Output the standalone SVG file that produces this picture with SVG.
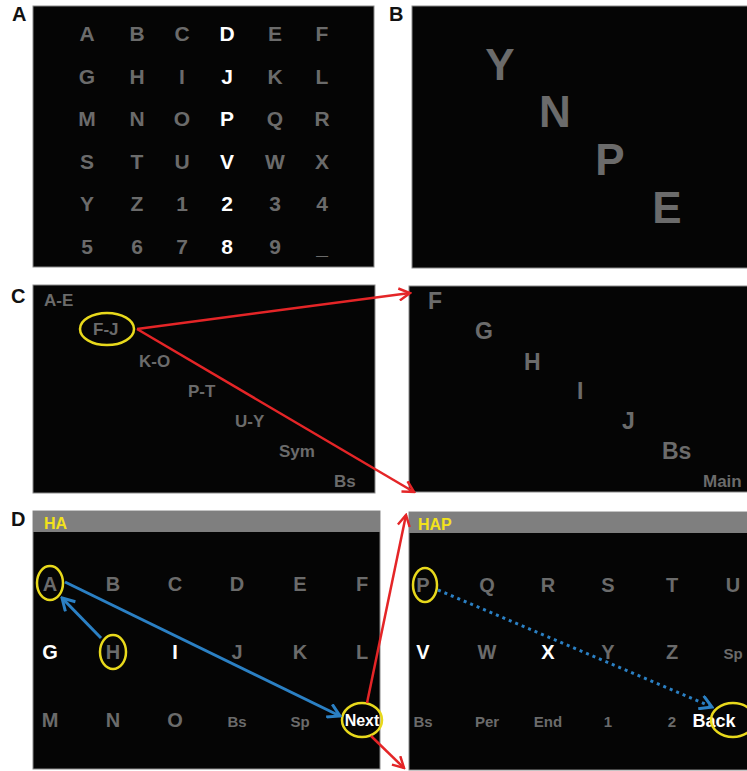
<svg xmlns="http://www.w3.org/2000/svg" width="747" height="771" viewBox="0 0 747 771">
<defs>
<style>
.bg{fill:#050505;stroke:#8a8a8a;stroke-width:1}
.hdr{fill:#7f7f7f}
.pl{font-family:"Liberation Sans",Arial,sans-serif;font-weight:bold;font-size:20px;fill:#111}
.g{font-family:"Liberation Sans",Arial,sans-serif;font-weight:bold;fill:#6b6b6b;text-anchor:middle}
.w{font-family:"Liberation Sans",Arial,sans-serif;font-weight:bold;fill:#ffffff;text-anchor:middle}
.gs{font-family:"Liberation Sans",Arial,sans-serif;font-weight:bold;fill:#6b6b6b}
.y{font-family:"Liberation Sans",Arial,sans-serif;font-weight:bold;fill:#f2e21c;font-size:16px}
.ring{fill:none;stroke:#e8d91c;stroke-width:2.5}
.red{fill:none;stroke:#e42527;stroke-width:2.5}
.blue{fill:none;stroke:#2b80c4;stroke-width:3}
.dot{fill:none;stroke:#2b80c4;stroke-width:3;stroke-dasharray:3 4}
</style>
<marker id="ar" viewBox="0 0 14 14" refX="12" refY="7" markerWidth="14" markerHeight="14" markerUnits="userSpaceOnUse" orient="auto"><path d="M1,1 L12,7 L1,13" fill="none" stroke="#e42527" stroke-width="2.5"/></marker>
<marker id="ab" viewBox="0 0 16 16" refX="14" refY="8" markerWidth="16" markerHeight="16" markerUnits="userSpaceOnUse" orient="auto"><path d="M2,1 L14,8 L2,15" fill="none" stroke="#2b80c4" stroke-width="3"/></marker>
</defs>
<rect width="747" height="771" fill="#ffffff"/>

<g id="panel-labels">
<text class="pl" x="12" y="21">A</text>
<text class="pl" x="389" y="21">B</text>
<text class="pl" x="11" y="303">C</text>
<text class="pl" x="11" y="526">D</text>
</g>

<g id="panelA">
<rect class="bg" x="33" y="6" width="341" height="261"/>
<g class="g" font-size="21">
<text x="87" y="41">A</text><text x="137" y="41">B</text><text x="182" y="41">C</text><text x="275" y="41">E</text><text x="322" y="41">F</text>
<text x="87" y="83.5">G</text><text x="137" y="83.5">H</text><text x="182" y="83.5">I</text><text x="275" y="83.5">K</text><text x="322" y="83.5">L</text>
<text x="87" y="126">M</text><text x="137" y="126">N</text><text x="182" y="126">O</text><text x="275" y="126">Q</text><text x="322" y="126">R</text>
<text x="87" y="168.5">S</text><text x="137" y="168.5">T</text><text x="182" y="168.5">U</text><text x="275" y="168.5">W</text><text x="322" y="168.5">X</text>
<text x="87" y="211">Y</text><text x="137" y="211">Z</text><text x="182" y="211">1</text><text x="275" y="211">3</text><text x="322" y="211">4</text>
<text x="87" y="253.5">5</text><text x="137" y="253.5">6</text><text x="182" y="253.5">7</text><text x="275" y="253.5">9</text><text x="322" y="253.5">_</text>
</g>
<g class="w" font-size="21">
<text x="227" y="41">D</text><text x="227" y="83.5">J</text><text x="227" y="126">P</text><text x="227" y="168.5">V</text><text x="227" y="211">2</text><text x="227" y="253.5">8</text>
</g>
</g>

<g id="panelB">
<rect class="bg" x="412" y="6" width="340" height="262"/>
<g class="g" font-size="44">
<text x="500" y="80">Y</text><text x="555" y="127">N</text><text x="610" y="175">P</text><text x="667" y="223">E</text>
</g>
</g>

<g id="panelC-left">
<rect class="bg" x="33" y="285" width="342" height="208"/>
<g class="gs" font-size="17">
<text x="44" y="306">A-E</text>
<text x="93" y="335">F-J</text>
<text x="139" y="367">K-O</text>
<text x="188" y="397">P-T</text>
<text x="235" y="427">U-Y</text>
<text x="279" y="457">Sym</text>
<text x="334" y="487">Bs</text>
</g>
<ellipse class="ring" cx="107" cy="329" rx="27" ry="16"/>
</g>

<g id="panelC-right">
<rect class="bg" x="409" y="286" width="345" height="206"/>
<g class="gs" font-size="23">
<text x="428" y="309">F</text>
<text x="475" y="339">G</text>
<text x="524" y="370">H</text>
<text x="577" y="399">I</text>
<text x="622" y="429">J</text>
<text x="662" y="459">Bs</text>
</g>
<text class="gs" font-size="17" x="703" y="487">Main</text>
</g>

<g id="panelD-left">
<rect class="bg" x="33" y="511" width="347" height="258"/>
<rect class="hdr" x="33" y="511" width="347" height="21"/>
<text class="y" x="44" y="529">HA</text>
<g class="g" font-size="20">
<text x="50" y="591">A</text><text x="113" y="591">B</text><text x="175" y="591">C</text><text x="237" y="591">D</text><text x="300" y="591">E</text><text x="362" y="591">F</text>
<text x="113" y="659">H</text><text x="237" y="659">J</text><text x="300" y="659">K</text><text x="362" y="659">L</text>
<text x="50" y="727">M</text><text x="113" y="727">N</text><text x="175" y="727">O</text>
<text x="237" y="727" font-size="15">Bs</text><text x="300" y="727" font-size="15">Sp</text>
</g>
<g class="w" font-size="20">
<text x="50" y="659">G</text><text x="175" y="659">I</text>
</g>
<text class="w" font-size="16" x="362" y="726">Next</text>
<ellipse class="ring" cx="50" cy="583" rx="13" ry="17"/>
<ellipse class="ring" cx="113" cy="652" rx="13" ry="17"/>
<ellipse class="ring" cx="362" cy="720" rx="20" ry="17"/>
</g>

<g id="panelD-right">
<rect class="bg" x="409" y="512" width="345" height="258"/>
<rect class="hdr" x="409" y="512" width="345" height="21"/>
<text class="y" x="418" y="530">HAP</text>
<g class="g" font-size="20">
<text x="487" y="592">Q</text><text x="548" y="592">R</text><text x="608" y="592">S</text><text x="672" y="592">T</text><text x="733" y="592">U</text>
<text x="423" y="592">P</text>
<text x="487" y="659">W</text><text x="608" y="659">Y</text><text x="672" y="659">Z</text>
<text x="733" y="659" font-size="15">Sp</text>
</g>
<g class="w" font-size="20">
<text x="423" y="659">V</text><text x="548" y="659">X</text>
</g>
<g class="g" font-size="15">
<text x="423" y="727">Bs</text><text x="487" y="727">Per</text><text x="548" y="727">End</text><text x="608" y="727">1</text><text x="672" y="727">2</text>
</g>
<text class="w" font-size="18" x="714" y="727" text-anchor="start">Back</text>
<ellipse class="ring" cx="733" cy="720" rx="22" ry="17"/>
<ellipse class="ring" cx="425" cy="585" rx="12" ry="17"/>
</g>

<g id="connectors">
<line class="red" x1="137" y1="329" x2="410" y2="293" marker-end="url(#ar)"/>
<line class="red" x1="137" y1="329" x2="414" y2="492" marker-end="url(#ar)"/>
<line class="red" x1="367" y1="703" x2="406" y2="515" marker-end="url(#ar)"/>
<line class="red" x1="371" y1="736" x2="404" y2="768" marker-end="url(#ar)"/>
<line class="blue" x1="65" y1="582" x2="340" y2="716" marker-end="url(#ab)"/>
<line class="blue" x1="101" y1="638" x2="62" y2="598" marker-end="url(#ab)"/>
<line class="dot" x1="438" y1="590" x2="712" y2="707" marker-end="url(#ab)"/>
</g>
</svg>
